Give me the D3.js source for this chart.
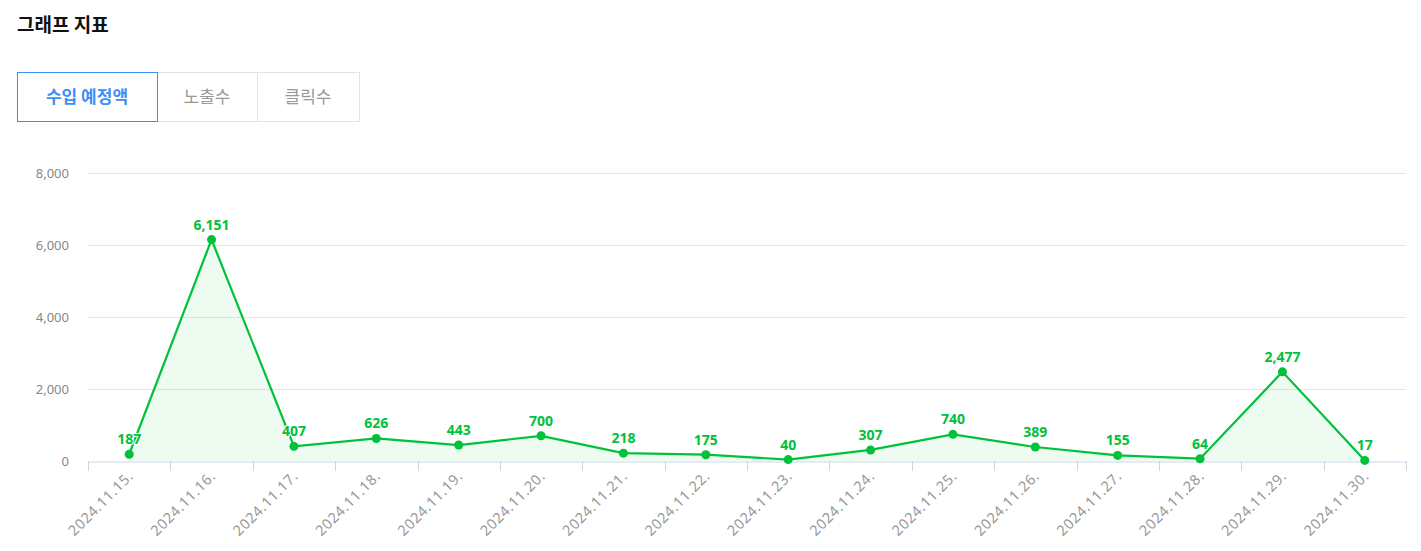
<!DOCTYPE html><html><head><meta charset="utf-8">
<script src="https://cdn.jsdelivr.net/npm/d3@7"></script>
<style>body{margin:0;background:#fff;font-family:"Noto Sans CJK KR","Noto Sans",sans-serif}</style></head><body>
<svg id="c" width="1421" height="551"></svg>
<script>
const categories=["2024.11.15.","2024.11.16.","2024.11.17.","2024.11.18.","2024.11.19.","2024.11.20.","2024.11.21.","2024.11.22.","2024.11.23.","2024.11.24.","2024.11.25.","2024.11.26.","2024.11.27.","2024.11.28.","2024.11.29.","2024.11.30."];
const values=[187,6151,407,626,443,700,218,175,40,307,740,389,155,64,2477,17];
const yTicks=[0,2000,4000,6000,8000];
const tabs=["수입 예정액","노출수","클릭수"];
const svg=d3.select("#c");
svg.append("text").attr("x",17).attr("y",32).attr("font-size",19).attr("font-weight",700).attr("fill","#111").text("그래프 지표");
const tw=[140,100,102];let tx=17;
tabs.forEach((t,i)=>{
  svg.append("rect").attr("x",tx+0.5).attr("y",72.5).attr("width",tw[i]).attr("height",49).attr("fill","#fff").attr("stroke",i==0?"#3d8ef5":"#e3e3e3");
  svg.append("text").attr("x",tx+tw[i]/2).attr("y",103).attr("text-anchor","middle").attr("font-size",17).attr("font-weight",i==0?700:400).attr("fill",i==0?"#3d8ef5":"#999").text(t);
  tx+=tw[i];
});
svg.selectAll("rect").filter((d,i)=>i==0).raise();svg.selectAll("text").raise();
const x=d3.scaleBand().domain(categories).range([88,1406]);
const y=d3.scaleLinear().domain([0,8000]).range([461,173]);
svg.append("g").selectAll("line").data(yTicks.slice(1)).join("line").attr("x1",88).attr("x2",1406).attr("y1",d=>y(d)+0.5).attr("y2",d=>y(d)+0.5).attr("stroke","#e6e6e6");
svg.append("g").selectAll("text").data(yTicks).join("text").attr("x",69).attr("y",d=>y(d)+5).attr("text-anchor","end").attr("font-size",13).attr("fill","#888").attr("font-family","Noto Sans").text(d3.format(","));
const xa=svg.append("g").attr("transform","translate(0,461.5)").call(d3.axisBottom(x).tickSize(0).tickFormat(""));
xa.select(".domain").attr("stroke","#ccd6eb");
svg.append("g").selectAll("line").data(d3.range(categories.length+1)).join("line").attr("x1",i=>Math.round(88+i*x.step())+0.5).attr("x2",i=>Math.round(88+i*x.step())+0.5).attr("y1",461).attr("y2",471).attr("stroke","#ccd6eb");
svg.append("g").selectAll("text").data(categories).join("text").attr("transform",d=>`translate(${x(d)+x.bandwidth()/2+5},477) rotate(-45)`).attr("text-anchor","end").attr("font-size",14.5).attr("letter-spacing",0.6).attr("fill","#999").attr("font-family","Noto Sans").text(d=>d);
const cx=(d,i)=>x(categories[i])+x.bandwidth()/2;
svg.append("path").datum(values).attr("d",d3.area().x(cx).y0(461).y1(d=>y(d))).attr("fill","rgba(0,196,60,0.07)");
svg.append("path").datum(values).attr("d",d3.line().x(cx).y(d=>y(d))).attr("fill","none").attr("stroke","#00c13a").attr("stroke-width",2.2);
svg.append("g").selectAll("circle").data(values).join("circle").attr("cx",cx).attr("cy",d=>y(d)).attr("r",4.5).attr("fill","#00c13a");
svg.append("g").selectAll("text").data(values).join("text").attr("x",cx).attr("y",d=>y(d)-10).attr("text-anchor","middle").attr("font-size",14).attr("font-weight",700).attr("fill","#00c13a").attr("stroke","#fff").attr("stroke-width",2).attr("paint-order","stroke").attr("font-family","Noto Sans").text(d3.format(","));
</script></body></html>
